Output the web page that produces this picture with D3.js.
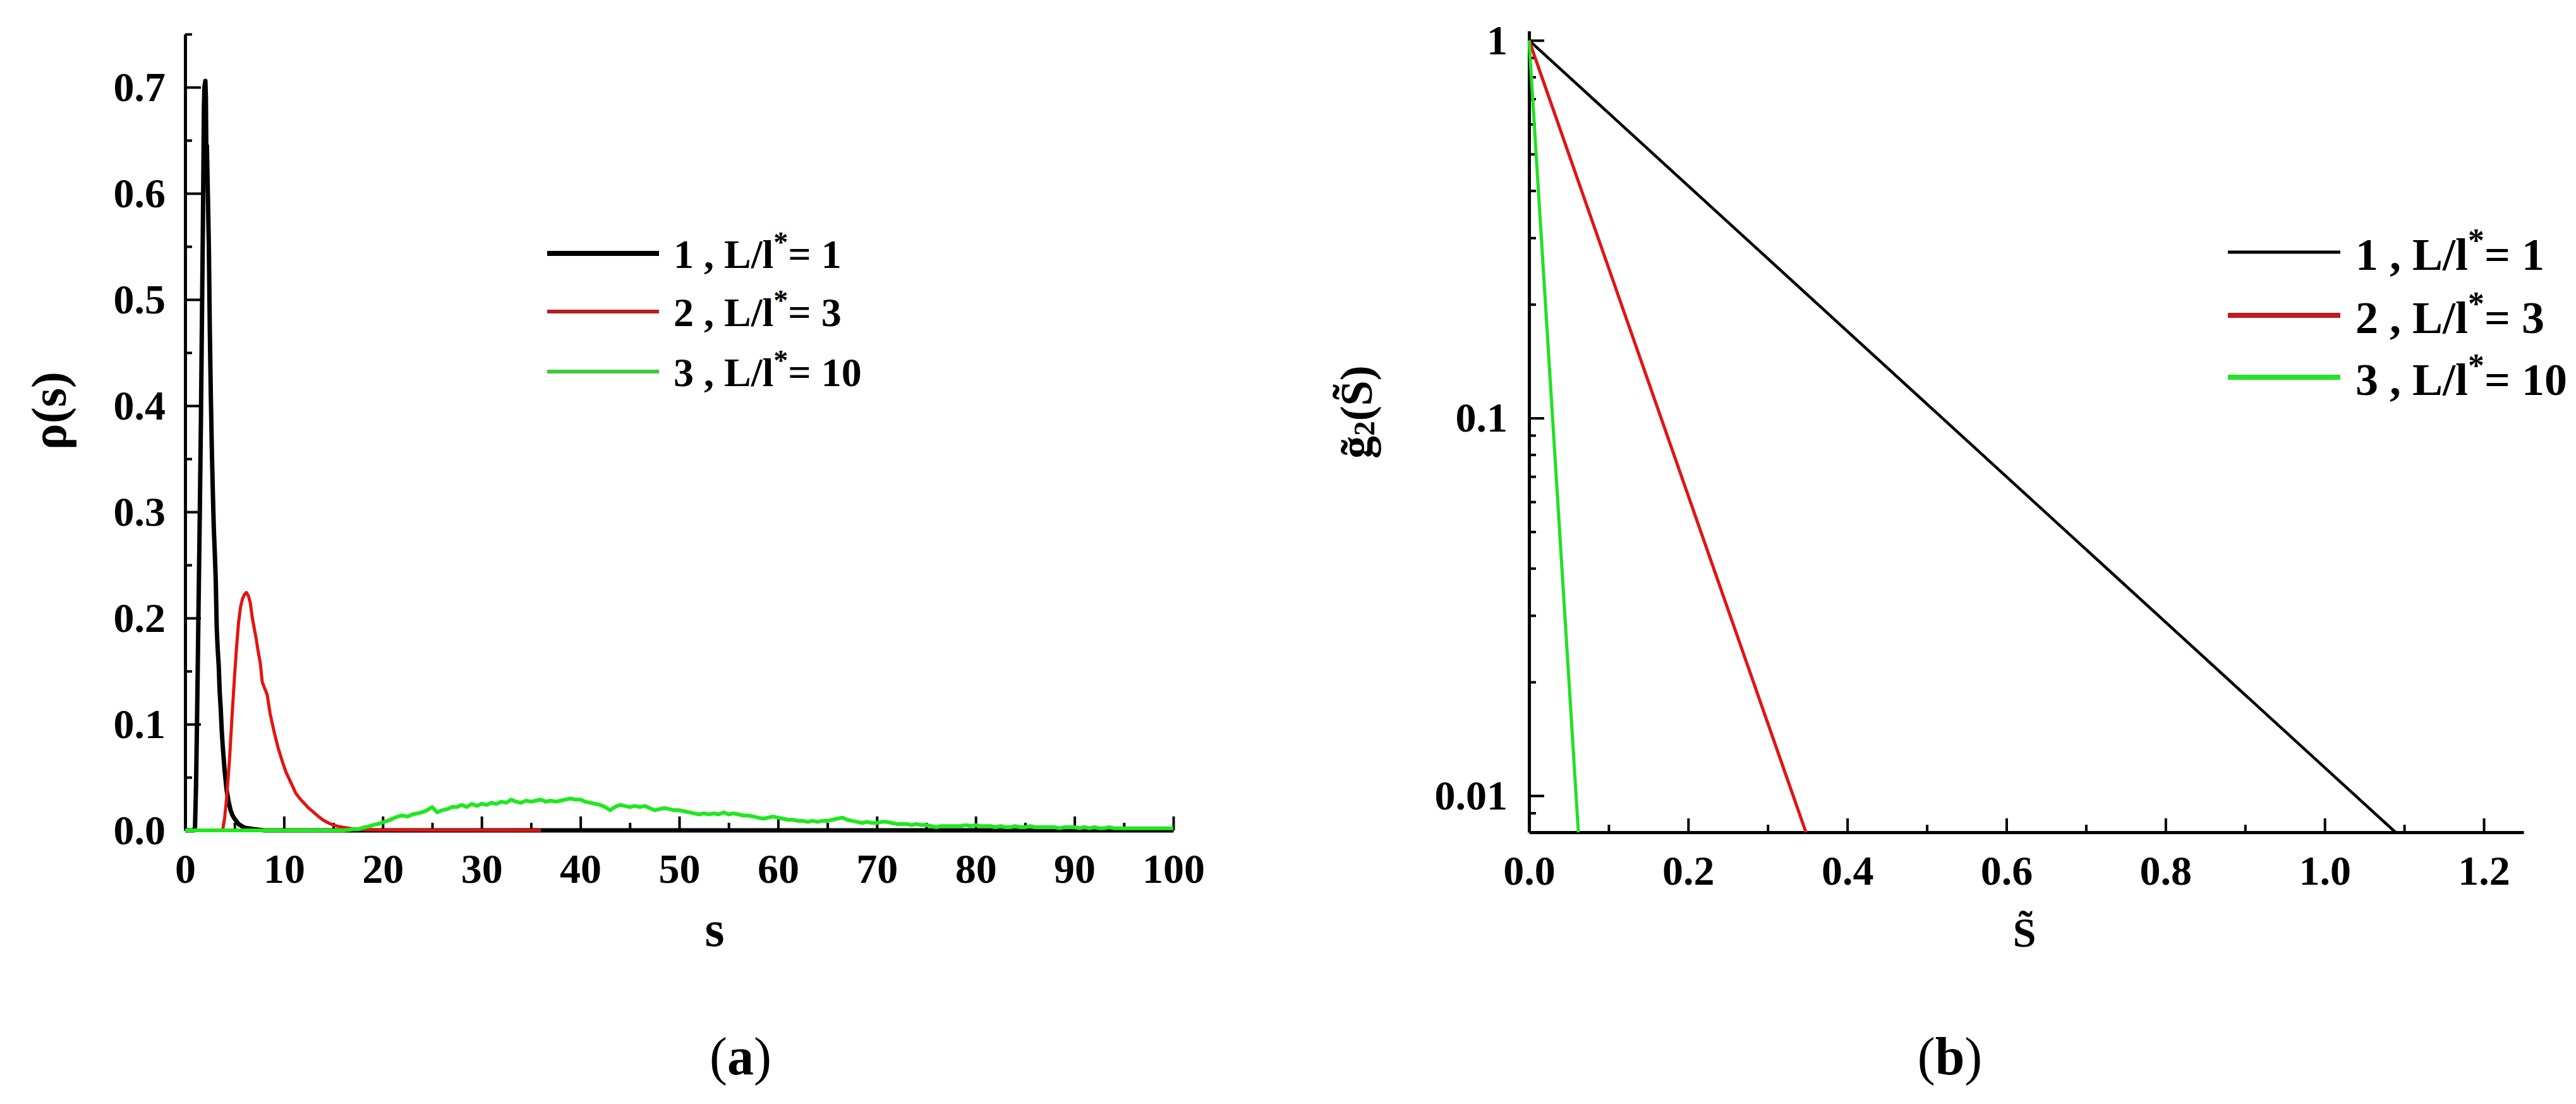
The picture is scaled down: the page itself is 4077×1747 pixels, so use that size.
<!DOCTYPE html>
<html><head><meta charset="utf-8">
<script src="https://cdn.jsdelivr.net/npm/d3@7"></script>
<style>
html,body{margin:0;padding:0;background:#fff;}
svg{display:block;}
text{font-family:"Liberation Serif","Times New Roman",serif;font-weight:bold;fill:#000;}
</style></head><body>
<svg id="chart" width="4077" height="1747"></svg>
<script>
// ---------------- DATA ----------------
const seriesNumbers = ["1", "2", "3"];
const ratioValues = ["1", "3", "10"];

// panel (a): rho(s)
const blackRho = [[0,0],[0.9,0],[1.0,0.003],[1.1,0.04],[1.2,0.1],[1.3,0.17],[1.4,0.24],[1.5,0.31],[1.6,0.387],[1.7,0.48],[1.8,0.57],[1.9,0.68],[1.95,0.70],[2.05,0.706],[2.1,0.69],[2.15,0.63],[2.2,0.645],[2.3,0.6],[2.4,0.55],[2.5,0.47],[2.6,0.41],[2.7,0.36],[2.8,0.32],[2.9,0.285],[3.0,0.262],[3.1,0.235],[3.2,0.19],[3.3,0.17],[3.4,0.155],[3.5,0.13],[3.6,0.115],[3.7,0.095],[3.8,0.08],[3.9,0.068],[4.0,0.056],[4.2,0.038],[4.4,0.027],[4.6,0.019],[4.8,0.014],[5.0,0.011],[5.4,0.006],[6.0,0.0025],[7.0,0.001],[8.0,0],[100,0]];

const redRho = [[3.7,0],[3.8,0],[4.0,0.012],[4.2,0.03],[4.5,0.068],[4.75,0.108],[5.0,0.145],[5.2,0.172],[5.4,0.195],[5.6,0.21],[5.8,0.218],[6.0,0.222],[6.2,0.224],[6.4,0.221],[6.6,0.214],[6.8,0.2],[7.0,0.19],[7.2,0.18],[7.4,0.168],[7.6,0.158],[7.8,0.14],[8.0,0.135],[8.3,0.128],[8.6,0.11],[9.0,0.093],[9.4,0.078],[9.8,0.066],[10.2,0.055],[10.7,0.045],[11.2,0.035],[11.6,0.03],[12.0,0.026],[12.5,0.021],[13.0,0.017],[13.5,0.013],[14.0,0.0095],[14.5,0.007],[15.0,0.005],[15.5,0.0038],[16.0,0.0028],[17.0,0.0015],[18.0,0.0007],[20,0.0003],[36,0]];

const greenRho = [[0,0],[16,0],[16.5,0.0005],[17,0.001],[17.5,0.001],[18,0.0025],[18.5,0.0035],[19,0.005],[19.5,0.006],[20,0.0075],[20.5,0.009],[21,0.011],[21.5,0.013],[22,0.014],[22.5,0.013],[23,0.015],[23.5,0.016],[24,0.017],[24.5,0.019],[25,0.022],[25.5,0.017],[26,0.019],[26.5,0.02],[27,0.022],[27.5,0.022],[28,0.024],[28.5,0.022],[29,0.025],[29.5,0.023],[30,0.025],[30.5,0.024],[31,0.026],[31.5,0.025],[32,0.027],[32.5,0.026],[33,0.029],[33.5,0.027],[34,0.026],[34.5,0.028],[35,0.027],[35.5,0.028],[36,0.029],[36.5,0.027],[37,0.028],[37.5,0.027],[38,0.028],[38.5,0.029],[39,0.03],[39.5,0.029],[40,0.029],[40.5,0.027],[41,0.026],[41.5,0.025],[42,0.024],[42.5,0.022],[43,0.019],[43.5,0.022],[44,0.024],[44.5,0.023],[45,0.022],[45.5,0.023],[46,0.022],[46.5,0.023],[47,0.021],[47.5,0.019],[48,0.02],[48.5,0.021],[49,0.02],[49.5,0.019],[50,0.019],[50.5,0.018],[51,0.017],[51.5,0.016],[52,0.015],[52.5,0.016],[53,0.015],[53.5,0.016],[54,0.015],[54.5,0.017],[55,0.015],[55.5,0.016],[56,0.015],[56.5,0.014],[57,0.014],[57.5,0.013],[58,0.012],[58.5,0.011],[59,0.012],[59.5,0.013],[60,0.012],[60.5,0.011],[61,0.01],[61.5,0.01],[62,0.009],[62.5,0.009],[63,0.008],[63.5,0.009],[64,0.008],[64.5,0.009],[65,0.009],[65.5,0.01],[66,0.011],[66.5,0.012],[67,0.01],[67.5,0.009],[68,0.008],[68.5,0.007],[69,0.008],[69.5,0.007],[70,0.007],[70.5,0.008],[71,0.008],[71.5,0.007],[72,0.006],[72.5,0.006],[73,0.006],[73.5,0.005],[74,0.006],[74.5,0.005],[75,0.005],[75.5,0.004],[76,0.003],[76.5,0.004],[77,0.004],[77.5,0.004],[78,0.004],[78.5,0.004],[79,0.005],[79.5,0.004],[80,0.005],[80.5,0.004],[81,0.004],[81.5,0.004],[82,0.003],[82.5,0.004],[83,0.003],[83.5,0.003],[84,0.004],[84.5,0.003],[85,0.003],[85.5,0.004],[86,0.003],[86.5,0.003],[87,0.003],[87.5,0.003],[88,0.003],[88.5,0.002],[89,0.003],[89.5,0.003],[90,0.003],[90.5,0.002],[91,0.003],[91.5,0.002],[92,0.003],[92.5,0.002],[93,0.002],[93.5,0.003],[94,0.002],[94.5,0.002],[95,0.002],[96,0.002],[97,0.002],[98,0.002],[99,0.002],[100,0.002]];

// panel (b): g2(S) on log scale (straight lines)
const blackG2 = [[0,1],[1.089,0.008]];
const redG2 = [[0,1],[0.348,0.008]];
const greenG2 = [[0,1],[0.062,0.008]];

// ticks
const xTicksA = [0,10,20,30,40,50,60,70,80,90,100];
const xMinorA = [5,15,25,35,45,55,65,75,85,95];
const yTicksA = [0,0.1,0.2,0.3,0.4,0.5,0.6,0.7];
const yMinorA = [0.05,0.15,0.25,0.35,0.45,0.55,0.65,0.75];
const xTicksB = [0,0.2,0.4,0.6,0.8,1.0,1.2];
const xMinorB = [0.1,0.3,0.5,0.7,0.9,1.1];
const yTicksB = [0.01,0.1,1];
const yMinorB = [0.009,0.02,0.03,0.04,0.05,0.06,0.07,0.08,0.09,0.2,0.3,0.4,0.5,0.6,0.7,0.8,0.9];

// ---------------- DRAW ----------------
const svg = d3.select("#chart");
const FONT = 66;

function styleAxis(g, fs) {
  g.attr("font-family", null).attr("font-size", null);
  g.selectAll("text").style("font-size", fs + "px");
  g.select(".domain").attr("stroke-width", 5);
  g.selectAll(".tick line").attr("stroke-width", 4);
}
function minor(g) {
  g.select(".domain").remove();
  g.selectAll(".tick line").attr("stroke-width", 4);
  g.selectAll("text").remove();
}

// ===== Panel (a) =====
const xA = d3.scaleLinear([0, 100], [293, 1857]);
const yA = d3.scaleLinear([0, 0.75], [1314, 54]);
const lineA = d3.line().x(d => xA(d[0])).y(d => yA(d[1]));

svg.append("g").attr("transform", "translate(0,1314)")
  .call(d3.axisBottom(xA).tickValues(xMinorA).tickSize(-12).tickSizeOuter(0)).call(minor);
svg.append("g").attr("transform", "translate(293,0)")
  .call(d3.axisLeft(yA).tickValues(yMinorA).tickSize(-11).tickSizeOuter(0)).call(minor);
svg.append("g").attr("transform", "translate(0,1314)")
  .call(d3.axisBottom(xA).tickValues(xTicksA).tickSize(-22).tickSizeOuter(0).tickPadding(36).tickFormat(d3.format("d")))
  .call(g => styleAxis(g, FONT));
svg.append("g").attr("transform", "translate(293,0)")
  .call(d3.axisLeft(yA).tickValues(yTicksA).tickSize(-25).tickSizeOuter(0).tickPadding(31).tickFormat(d3.format(".1f")))
  .call(g => styleAxis(g, FONT));

const colorsA = ["#000000", "#e3140f", "#1fe81f"];
const widthsA = [7, 5, 6];
[blackRho, redRho, greenRho].forEach((s, i) => {
  svg.append("path").datum(s).attr("d", lineA).attr("fill", "none")
    .attr("stroke", colorsA[i]).attr("stroke-width", widthsA[i]).attr("stroke-linejoin", "round");
});

svg.append("text").attr("transform", "translate(77,650) rotate(-90)")
  .attr("text-anchor", "middle").attr("dominant-baseline", "central")
  .style("font-size", "78px").text("ρ(s)");
svg.append("text").attr("x", 1131).attr("y", 1497).attr("text-anchor", "middle")
  .style("font-size", "80px").text("s");

const legColorsA = ["#000000", "#b3201d", "#3cc83c"];
const legWidthsA = [8, 6, 6];
const legYA = [401, 493, 588];
function legendText(x, y, fs, num, val) {
  const t = svg.append("text").attr("x", x).attr("y", y).style("font-size", fs + "px");
  t.append("tspan").text(num + " , L/l");
  t.append("tspan").attr("dy", "-0.55em").style("font-size", "0.72em").text("*");
  t.append("tspan").attr("dy", (0.55 * 0.72) + "em").text("= " + val);
}
seriesNumbers.forEach((n, i) => {
  svg.append("line").attr("x1", 866).attr("x2", 1043).attr("y1", legYA[i]).attr("y2", legYA[i])
    .attr("stroke", legColorsA[i]).attr("stroke-width", legWidthsA[i]);
  legendText(1066, legYA[i] + 23, 64, n, ratioValues[i]);
});

// ===== Panel (b) =====
const xB = d3.scaleLinear([0, 1.25], [2420, 3994]);
const yB = d3.scaleLog([0.008, 1.059], [1317, 49]);
const lineB = d3.line().x(d => xB(d[0])).y(d => yB(d[1]));

svg.append("g").attr("transform", "translate(0,1317)")
  .call(d3.axisBottom(xB).tickValues(xMinorB).tickSize(-12).tickSizeOuter(0)).call(minor);
svg.append("g").attr("transform", "translate(2420,0)")
  .call(d3.axisLeft(yB).tickValues(yMinorB).tickSize(-11).tickSizeOuter(0)).call(minor);
svg.append("g").attr("transform", "translate(0,1317)")
  .call(d3.axisBottom(xB).tickValues(xTicksB).tickSize(-22).tickSizeOuter(0).tickPadding(36).tickFormat(d3.format(".1f")))
  .call(g => styleAxis(g, FONT));
svg.append("g").attr("transform", "translate(2420,0)")
  .call(d3.axisLeft(yB).tickValues(yTicksB).tickSize(-24).tickSizeOuter(0).tickPadding(34).tickFormat(d => String(d)))
  .call(g => styleAxis(g, FONT));

const colorsB = ["#000000", "#e01515", "#22e022"];
const widthsB = [4.5, 5, 5];
[blackG2, redG2, greenG2].forEach((s, i) => {
  svg.append("path").datum(s).attr("d", lineB).attr("fill", "none")
    .attr("stroke", colorsB[i]).attr("stroke-width", widthsB[i]);
});

const yl = svg.append("text").attr("transform", "translate(2147,652) rotate(-90)")
  .attr("text-anchor", "middle").attr("dominant-baseline", "central").style("font-size", "72px");
yl.append("tspan").text("g\u0303");
yl.append("tspan").attr("dy", "0.25em").style("font-size", "0.65em").text("2");
yl.append("tspan").attr("dy", "-0.1625em").text("(S\u0303)");
svg.append("text").attr("x", 3204).attr("y", 1498).attr("text-anchor", "middle")
  .style("font-size", "66px").text("S\u0303");

const legColorsB = ["#000000", "#c41a1a", "#28e028"];
const legWidthsB = [5, 8, 8];
const legYB = [399, 499, 597];
seriesNumbers.forEach((n, i) => {
  svg.append("line").attr("x1", 3526).attr("x2", 3704).attr("y1", legYB[i]).attr("y2", legYB[i])
    .attr("stroke", legColorsB[i]).attr("stroke-width", legWidthsB[i]);
  legendText(3728, legYB[i] + 28, 72, n, ratioValues[i]);
});

function caption(x, letter) {
  const t = svg.append("text").attr("x", x).attr("y", 1700).attr("text-anchor", "middle")
    .style("font-size", "84px");
  t.append("tspan").style("font-weight", "normal").text("(");
  t.append("tspan").text(letter);
  t.append("tspan").style("font-weight", "normal").text(")");
}
caption(1172, "a");
caption(3086, "b");
</script>
</body></html>
